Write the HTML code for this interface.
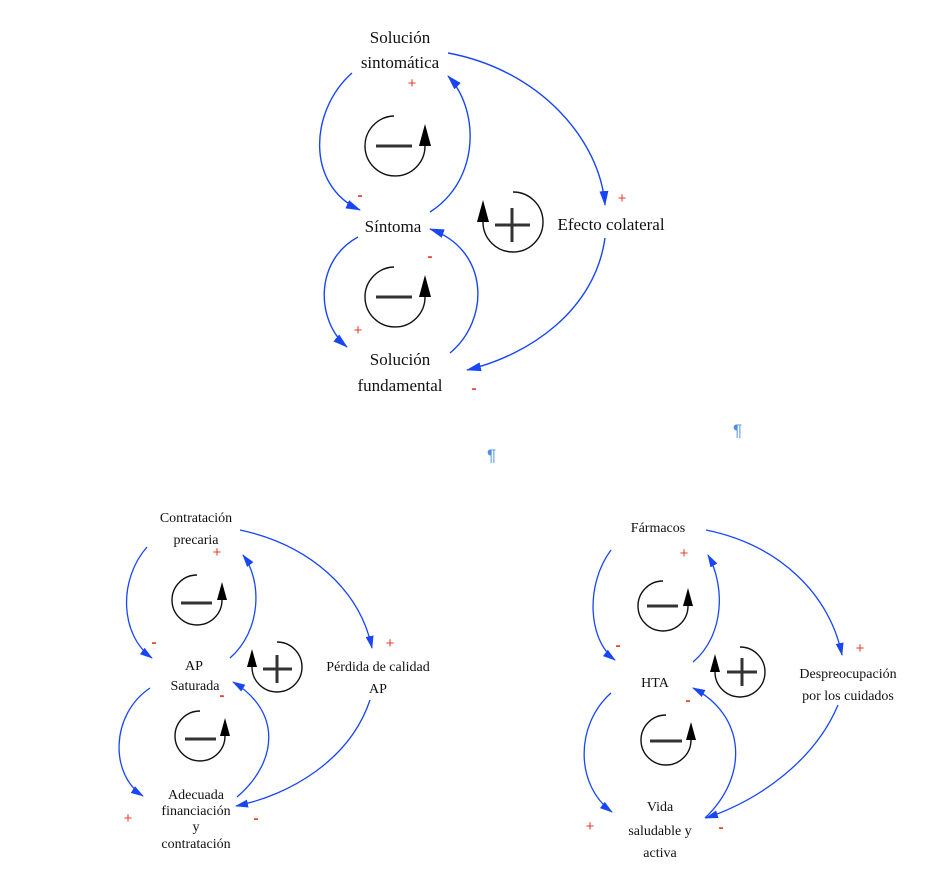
<!DOCTYPE html>
<html><head><meta charset="utf-8"><style>
html,body{margin:0;padding:0;background:#fff;}
svg{display:block;}
text{font-family:"Liberation Serif",serif;fill:#111;}
.s{fill:#e8412f;font-family:"Liberation Sans",sans-serif;}
</style></head><body>
<svg width="948" height="876" viewBox="0 0 948 876" xmlns="http://www.w3.org/2000/svg">
<defs>
<marker id="a" viewBox="0 0 15 9" refX="14" refY="4.5" markerWidth="15" markerHeight="9" orient="auto" markerUnits="userSpaceOnUse"><path d="M0,0 L15,4.5 L0,9 z" fill="#1846f5"/></marker>
<marker id="c" viewBox="0 0 13 8" refX="12" refY="4" markerWidth="13" markerHeight="8" orient="auto" markerUnits="userSpaceOnUse"><path d="M0,0 L13,4 L0,8 z" fill="#1846f5"/></marker>
</defs>
<g fill="none" stroke="#1846f5" stroke-width="1.4" marker-end="url(#a)">
<path d="M352,73 C310,110 305,185 360,210"/>
<path d="M430,212 C480,180 480,110 448,76"/>
<path d="M358,237 C315,260 315,320 347,347"/>
<path d="M450,353 C490,320 490,250 430,229"/>
<path d="M448,53 C540,70 600,140 605,205"/>
<path d="M605,238 C595,310 530,355 467,370"/>
</g>
<g fill="none" stroke="#1846f5" stroke-width="1.3" marker-end="url(#c)">
<path d="M147,547 C118,580 120,635 152,658"/>
<path d="M230,658 C262,630 262,580 243,555"/>
<path d="M150,688 C110,715 110,775 143,796"/>
<path d="M237,797 C280,760 280,710 233,682"/>
<path d="M240,530 C310,545 360,590 372,648"/>
<path d="M370,700 C350,760 290,795 236,806"/>
<path d="M611,550 C585,585 588,640 615,660"/>
<path d="M693,662 C725,635 725,585 708,555"/>
<path d="M611,693 C575,725 575,785 612,812"/>
<path d="M705,818 C750,775 745,715 693,688"/>
<path d="M706,530 C780,545 830,595 842,655"/>
<path d="M838,705 C815,760 760,800 706,818"/>
</g>
<g fill="none" stroke="#111" stroke-width="1.4">
<path d="M425,146 A30,30 0 1 1 394,116"/>
<path d="M425,297 A30,30 0 1 1 394,267"/>
<path d="M483,222 A30,30 0 1 0 513,192"/>
<path d="M222,600 A25,25 0 1 1 197,575"/>
<path d="M225,736 A25,25 0 1 1 200,711"/>
<path d="M252,667 A25,25 0 1 0 277,642"/>
<path d="M688,606 A25,25 0 1 1 663,581"/>
<path d="M691,740 A25,25 0 1 1 666,715"/>
<path d="M715,672 A25,25 0 1 0 740,647"/>
</g>
<g fill="#000">
<path d="M419,146 L431,146 L425,124 z"/>
<path d="M419,297 L431,297 L425,275 z"/>
<path d="M477,222 L489,222 L483,200 z"/>
<path d="M217,600 L227,600 L222,582 z"/>
<path d="M220,736 L230,736 L225,718 z"/>
<path d="M247,667 L257,667 L252,649 z"/>
<path d="M683,606 L693,606 L688,588 z"/>
<path d="M686,740 L696,740 L691,722 z"/>
<path d="M710,672 L720,672 L715,654 z"/>
</g>
<g stroke="#333" stroke-width="3">
<line x1="376" y1="146" x2="412" y2="146"/>
<line x1="376" y1="297" x2="412" y2="297"/>
<line x1="495" y1="225" x2="530" y2="225"/><line x1="512" y1="208" x2="512" y2="242"/>
<line x1="181" y1="603" x2="212" y2="603"/>
<line x1="185" y1="739" x2="216" y2="739"/>
<line x1="263" y1="669" x2="292" y2="669"/><line x1="277" y1="655" x2="277" y2="683"/>
<line x1="647" y1="606" x2="678" y2="606"/>
<line x1="650" y1="741" x2="682" y2="741"/>
<line x1="727" y1="672" x2="757" y2="672"/><line x1="742" y1="658" x2="742" y2="686"/>
</g>
<g font-size="17" text-anchor="middle">
<text x="400" y="43">Solución</text>
<text x="400" y="68">sintomática</text>
<text x="393" y="232">Síntoma</text>
<text x="611" y="230">Efecto colateral</text>
<text x="400" y="365">Solución</text>
<text x="400" y="391">fundamental</text>
</g>
<g font-size="14" text-anchor="middle">
<text x="196" y="522">Contratación</text>
<text x="196" y="544">precaria</text>
<text x="194" y="670">AP</text>
<text x="195" y="690">Saturada</text>
<text x="378" y="671">Pérdida de calidad</text>
<text x="378" y="693">AP</text>
<text x="196" y="799">Adecuada</text>
<text x="196" y="815">financiación</text>
<text x="196" y="831">y</text>
<text x="196" y="848">contratación</text>
<text x="658" y="532">Fármacos</text>
<text x="655" y="687">HTA</text>
<text x="848" y="678">Despreocupación</text>
<text x="848" y="700">por los cuidados</text>
<text x="660" y="811">Vida</text>
<text x="660" y="835">saludable y</text>
<text x="660" y="857">activa</text>
</g>
<g font-size="15" text-anchor="middle">
<text class="s" x="412" y="88">+</text>
<text class="s" x="360" y="200" font-weight="bold">-</text>
<text class="s" x="430" y="261" font-weight="bold">-</text>
<text class="s" x="358" y="335">+</text>
<text class="s" x="622" y="203">+</text>
<text class="s" x="474" y="393" font-weight="bold">-</text>
<text class="s" x="217" y="557">+</text>
<text class="s" x="154" y="647" font-weight="bold">-</text>
<text class="s" x="222" y="700" font-weight="bold">-</text>
<text class="s" x="390" y="648">+</text>
<text class="s" x="128" y="823">+</text>
<text class="s" x="256" y="823" font-weight="bold">-</text>
<text class="s" x="684" y="558">+</text>
<text class="s" x="618" y="650" font-weight="bold">-</text>
<text class="s" x="688" y="705" font-weight="bold">-</text>
<text class="s" x="860" y="653">+</text>
<text class="s" x="590" y="831">+</text>
<text class="s" x="721" y="832" font-weight="bold">-</text>
</g>
<g font-size="17">
<text x="733" y="436" style="fill:#4a90e2;font-family:'Liberation Sans',sans-serif">¶</text>
<text x="487" y="461" style="fill:#4a90e2;font-family:'Liberation Sans',sans-serif">¶</text>
</g>
</svg>
</body></html>
